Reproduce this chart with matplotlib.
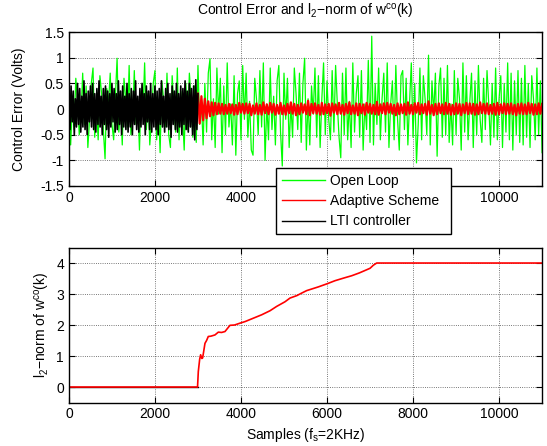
import numpy as np
import matplotlib
matplotlib.use("Agg")
import matplotlib.pyplot as plt

plt.rcParams['font.family'] = ['Liberation Sans', 'DejaVu Sans']
plt.rcParams['mathtext.default'] = 'regular'
plt.rcParams['font.size'] = 10

# control error (downsampled)
green_step = 40
open_loop = [
    0.55,-0.7,0.1,-0.4,0.6,0.2,-0.5,-0.15,0.7,-0.3,0.45,-0.75,-0.2,0.5,0.8,-0.55,0.05,-0.6,0.65,0.3,
    -0.4,-0.97,0.4,0.1,0.7,-0.3,-0.6,0.25,0.99,-0.45,0.1,-0.7,0.6,0.2,-0.35,0.85,-0.5,-0.2,0.75,-0.3,
    0.15,-0.8,0.35,-0.1,0.9,-0.4,0.3,-0.7,-0.2,0.5,0.75,-0.6,0.1,-0.85,0.55,0.2,-0.35,0.7,-0.5,-0.75,
    0.65,0.1,-0.45,0.8,-0.6,0.35,-0.1,-0.8,0.5,-0.4,0.7,0.2,-0.55,0.45,-0.65,0.85,-0.3,0.15,-0.7,0.5,
    -0.45,0.7,0.98,-0.6,0.2,-0.75,0.8,-0.1,0.6,-0.85,0.45,-0.5,0.9,-0.35,0.1,-0.7,0.65,-0.9,0.3,0.55,
    -0.6,0.85,-0.2,0.7,-0.55,0.15,-0.8,-0.9,0.6,0.2,-0.5,0.75,-0.35,0.9,-1.0,0.1,-0.6,0.8,-0.4,0.25,
    -0.7,0.55,0.85,-0.45,-1.11,0.7,-0.2,0.6,-0.75,0.1,-0.55,0.8,0.3,-0.4,0.7,-0.65,0.5,0.99,-0.8,0.2,
    -0.7,0.45,-0.1,0.8,-0.55,0.65,-0.75,0.2,0.9,-0.5,0.55,-0.2,-0.6,0.75,-0.45,0.85,0.1,-0.55,-0.95,0.7,
    -0.5,0.8,-0.6,0.15,-0.75,0.9,-0.45,0.3,0.65,-0.55,0.75,-0.8,0.1,-0.4,0.95,-0.65,1.42,-0.7,0.5,-0.3,
    0.8,-0.6,0.2,0.7,-0.45,0.9,-0.75,0.1,0.55,-0.6,0.85,-0.2,-0.8,0.65,0.75,-0.4,0.6,-0.7,0.15,0.9,
    -0.55,0.5,-1.05,-0.3,0.8,-0.6,0.65,0.2,-0.5,1.05,-0.7,0.55,-0.1,0.7,-0.92,0.45,0.8,-0.55,0.6,-0.5,
    0.85,-0.65,0.1,-0.7,0.75,-0.5,0.6,0.2,-0.8,0.9,-0.45,0.65,-0.6,0.15,0.7,-0.75,0.55,-0.5,0.85,-0.2,
    -0.65,0.6,-0.4,0.75,0.1,-0.7,0.5,-0.55,0.8,-0.6,0.2,0.65,-0.75,0.5,-0.45,0.9,-0.6,0.7,-0.8,0.55,
    -0.5,0.75,-0.65,0.6,-0.7,0.85,-0.55,0.5,-0.75,0.65,0.2,-0.6,0.8,-0.5,0.55,-0.85,
]

lti_step = 25
lti = [
    0.3,-0.4,0.45,-0.25,0.35,-0.5,0.2,-0.35,0.5,-0.3,
    0.4,-0.45,0.25,-0.35,0.55,-0.4,0.3,-0.5,0.35,-0.25,
    0.45,-0.35,0.5,-0.4,0.3,-0.45,0.4,-0.3,0.55,-0.35,
    0.25,-0.5,0.4,-0.3,0.45,-0.4,0.35,-0.55,0.3,-0.35,
    0.5,-0.25,0.4,-0.45,0.3,-0.4,0.55,-0.3,0.35,-0.5,
    0.45,-0.35,0.25,-0.4,0.5,-0.45,0.3,-0.35,0.4,-0.5,
    0.35,-0.3,0.55,-0.4,0.25,-0.45,0.4,-0.35,0.5,-0.3,
    0.3,-0.5,0.45,-0.25,0.35,-0.4,0.5,-0.45,0.3,-0.35,
    0.45,-0.4,0.35,-0.5,0.4,-0.3,0.55,-0.35,0.25,-0.45,
    0.4,-0.35,0.5,-0.4,0.3,-0.55,0.45,-0.3,0.35,-0.4,
    0.5,-0.45,0.3,-0.35,0.45,-0.5,0.4,-0.3,0.55,-0.4,
    0.35,-0.45,0.5,-0.35,0.4,-0.5,0.45,-0.6,0.57,-0.4,
    0.3,
]

adapt_start = 3000
adapt_step = 40
adaptive = [
    0.3,-0.28,0.25,-0.22,0.2,-0.18,0.15,-0.14,0.13,-0.12,
    0.12,-0.1,0.11,-0.09,0.1,-0.1,0.08,-0.09,0.1,-0.08,
    0.09,-0.11,0.08,-0.1,0.12,-0.07,0.1,-0.09,0.11,-0.08,
    0.1,-0.12,0.07,-0.09,0.11,-0.1,0.08,-0.11,0.13,-0.08,
    0.09,-0.1,0.12,-0.07,0.1,-0.11,0.08,-0.09,0.12,-0.1,
    0.07,-0.11,0.1,-0.08,0.13,-0.09,0.1,-0.12,0.08,-0.1,
    0.11,-0.07,0.09,-0.1,0.16,-0.12,0.1,-0.08,0.11,-0.09,
    0.08,-0.11,0.12,-0.1,0.09,-0.08,0.1,-0.13,0.11,-0.07,
    0.09,-0.1,0.12,-0.09,0.08,-0.11,0.1,-0.08,0.13,-0.1,
    0.07,-0.09,0.11,-0.12,0.1,-0.08,0.09,-0.11,0.12,-0.07,
    0.1,-0.09,0.08,-0.1,0.14,-0.11,0.09,-0.08,0.11,-0.1,
    0.12,-0.07,0.1,-0.09,0.08,-0.12,0.11,-0.1,0.09,-0.08,
    0.1,-0.11,0.13,-0.09,0.08,-0.1,0.11,-0.07,0.12,-0.1,
    0.09,-0.08,0.1,-0.11,0.15,-0.09,0.08,-0.12,0.1,-0.1,
    0.11,-0.08,0.09,-0.1,0.12,-0.09,0.1,-0.11,0.08,-0.1,
    0.11,-0.09,0.1,-0.12,0.09,-0.08,0.12,-0.1,0.11,-0.09,
    0.1,-0.11,0.09,-0.1,0.13,-0.08,0.1,-0.09,0.11,-0.1,
    0.08,-0.09,0.1,-0.11,0.12,-0.1,0.09,-0.08,0.11,-0.1,
    0.1,-0.09,0.11,-0.1,0.08,-0.12,0.1,-0.09,0.11,-0.1,
    0.09,-0.1,0.12,-0.08,0.1,-0.11,0.09,-0.1,0.11,-0.09,
    0.1,
]

# l2 norm of w^co(k)
norm_samples = [0, 2990, 3008, 3040, 3062, 3090, 3109, 3163, 3200, 3240, 3300, 3395, 3473,
                3550, 3628, 3744, 3850, 3977, 4093, 4287, 4481, 4674, 4829, 5023, 5140, 5300,
                5411, 5527, 5798, 6000, 6186, 6400, 6574, 6750, 6884, 7000, 7078, 7155, 11000]
norm_values = [0, 0, 0.5, 0.9, 1.04, 0.92, 0.94, 1.41, 1.5, 1.63, 1.64, 1.68, 1.77,
               1.76, 1.79, 1.99, 2.0, 2.06, 2.11, 2.22, 2.33, 2.46, 2.6, 2.75, 2.87, 2.95,
               3.03, 3.11, 3.23, 3.33, 3.43, 3.52, 3.59, 3.68, 3.76, 3.83, 3.93, 4.0, 4.0]

x_green = np.arange(len(open_loop)) * green_step
x_lti = np.arange(len(lti)) * lti_step
x_adapt = adapt_start + np.arange(len(adaptive)) * adapt_step

fig = plt.figure(figsize=(5.47, 4.46), dpi=100)
ax1 = fig.add_axes([0.126, 0.583, 0.865, 0.345])
ax2 = fig.add_axes([0.126, 0.0975, 0.865, 0.3475])

l1, = ax1.plot(x_green, open_loop, color=(0, 1, 0), lw=0.9)
l2, = ax1.plot(x_adapt, adaptive, color=(1, 0, 0), lw=1.6)
l3, = ax1.plot(x_lti, lti, color='k', lw=1.2)
ax1.set_xlim(0, 11000)
ax1.set_ylim(-1.5, 1.5)
ax1.set_xticks([0, 2000, 4000, 6000, 8000, 10000])
# 6000 and 8000 sit behind the legend in the reference
ax1.set_xticklabels(['0', '2000', '4000', '', '', '10000'])
ax1.set_yticks([-1.5, -1, -0.5, 0, 0.5, 1, 1.5])
ax1.set_yticklabels(['-1.5', '-1', '-0.5', '0', '0.5', '1', '1.5'])
ax1.set_ylabel('Control Error (Volts)', labelpad=10)
ax1.set_title('Control Error and l$_2$$-$norm of w$^{co}$(k)', fontsize=10, pad=12)

ax2.plot([0, adapt_start], [0, 0], color='k', lw=1)
ax2.plot(norm_samples, norm_values, color=(1, 0, 0), lw=1.2)
ax2.set_xlim(0, 11000)
ax2.set_ylim(-0.5, 4.5)
ax2.set_xticks([0, 2000, 4000, 6000, 8000, 10000])
ax2.set_yticks([0, 1, 2, 3, 4])
ax2.set_ylabel('l$_2$$-$norm of w$^{co}$(k)', labelpad=3)
ax2.set_xlabel('Samples (f$_s$=2KHz)', labelpad=3)

for ax in (ax1, ax2):
    ax.grid(True, linestyle=':', color='k', lw=0.6, alpha=0.7)
    ax.tick_params(direction='in', top=True, right=True, length=4, width=0.8, labelsize=10)
    for sp in ax.spines.values():
        sp.set_linewidth(1.0)

leg = fig.legend([l1, l2, l3], ['Open Loop', 'Adaptive Scheme', 'LTI controller'],
                 loc='lower left', bbox_to_anchor=(0.5046, 0.4753, 0.32, 0.150),
                 mode='expand', fancybox=False, framealpha=1, edgecolor='k',
                 handlelength=3.1, handletextpad=0.4, labelspacing=0.45,
                 borderpad=0.4, borderaxespad=0, fontsize=10)
leg.get_frame().set_linewidth(1.0)
for h in leg.get_lines():
    h.set_linewidth(1.0)

fig.savefig('out.png', dpi=100)
